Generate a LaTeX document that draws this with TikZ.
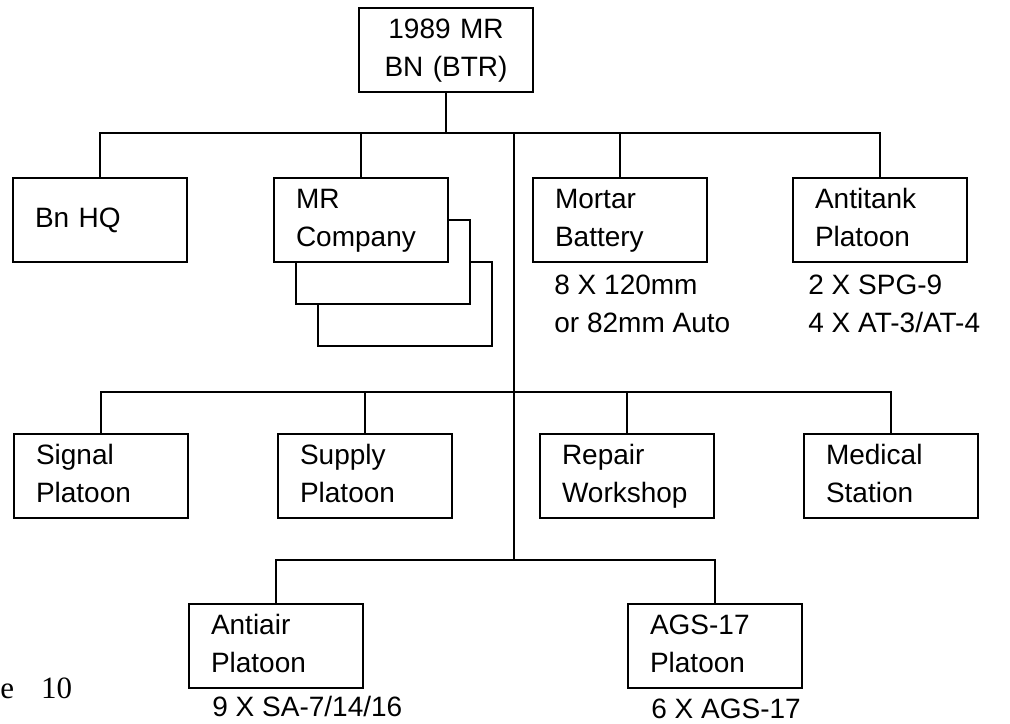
\documentclass[tikz,border=0pt]{standalone}
\usepackage{fontspec}
\setmainfont{Liberation Sans}
\newfontfamily\capfont{Liberation Serif}
\usetikzlibrary{positioning}

\begin{document}
\begin{tikzpicture}[x=0.5pt, y=-0.5pt,
    unit/.style={draw, line width=1.2pt, fill=white, minimum width=87pt, minimum height=42pt,
      text width=65pt, inner xsep=11pt, inner ysep=0pt, align=left,
      execute at begin node=\strut, execute at end node=\strut,
      font=\fontsize{14}{19}\selectfont},
    kit/.style={anchor=base west, inner sep=0pt, align=left, font=\fontsize{14}{19}\selectfont},
    link/.style={line width=1.2pt}]
  \useasboundingbox (0,0) rectangle (1010,723);

  % Battalion
  \node[unit, align=center] (bn) at (446,50) {1989 MR\\BN (BTR)};

  % Combat elements
  \node[unit] (hq) at (100,220) {Bn HQ};
  \node[unit] (mrc3) at (405,304) {};
  \node[unit] (mrc2) at (383,262) {};
  \node[unit] (mrc) at (361,220) {MR\\Company};
  \node[unit] (mtr) at (620,220) {Mortar\\Battery};
  \node[unit] (atk) at (880,220) {Antitank\\Platoon};
  \node[kit] (mtrkit) at (554,332) {8 X 120mm\\or 82mm Auto};
  \node[kit] (atkkit) at (808,332) {2 X SPG-9\\4 X AT-3/AT-4};

  % Support elements
  \node[unit] (sig) at (101,476) {Signal\\Platoon};
  \node[unit] (sup) at (365,476) {Supply\\Platoon};
  \node[unit] (rep) at (627,476) {Repair\\Workshop};
  \node[unit] (med) at (891,476) {Medical\\Station};

  % Fire support platoons
  \node[unit] (aa) at (276,646) {Antiair\\Platoon};
  \node[unit] (ags) at (715,646) {AGS-17\\Platoon};
  \node[kit] (aakit) at (212,716) {9 X SA-7/14/16};
  \node[kit] (agskit) at (651,718) {6 X AGS-17};

  \node[anchor=base west, inner sep=0pt, font=\capfont\fontsize{15.5}{17}\selectfont] (fig) at (0,698) {e\hspace{13.5pt}10};

  % Connectors
  \coordinate (bus1) at (514,133);
  \coordinate (bus2) at (514,392);
  \coordinate (bus3) at (514,560);
  \draw[link] (bn.south) -- (bn.south |- bus1);
  \draw[link] (bus1) -- (bus3);
  \draw[link] (hq.north) -- (hq.north |- bus1) -| (atk.north);
  \foreach \u in {mrc, mtr}
    \draw[link] (\u.north) -- (\u.north |- bus1);
  \draw[link] (sig.north) -- (sig.north |- bus2) -| (med.north);
  \foreach \u in {sup, rep}
    \draw[link] (\u.north) -- (\u.north |- bus2);
  \draw[link] (aa.north) -- (aa.north |- bus3) -| (ags.north);
\end{tikzpicture}
\end{document}
